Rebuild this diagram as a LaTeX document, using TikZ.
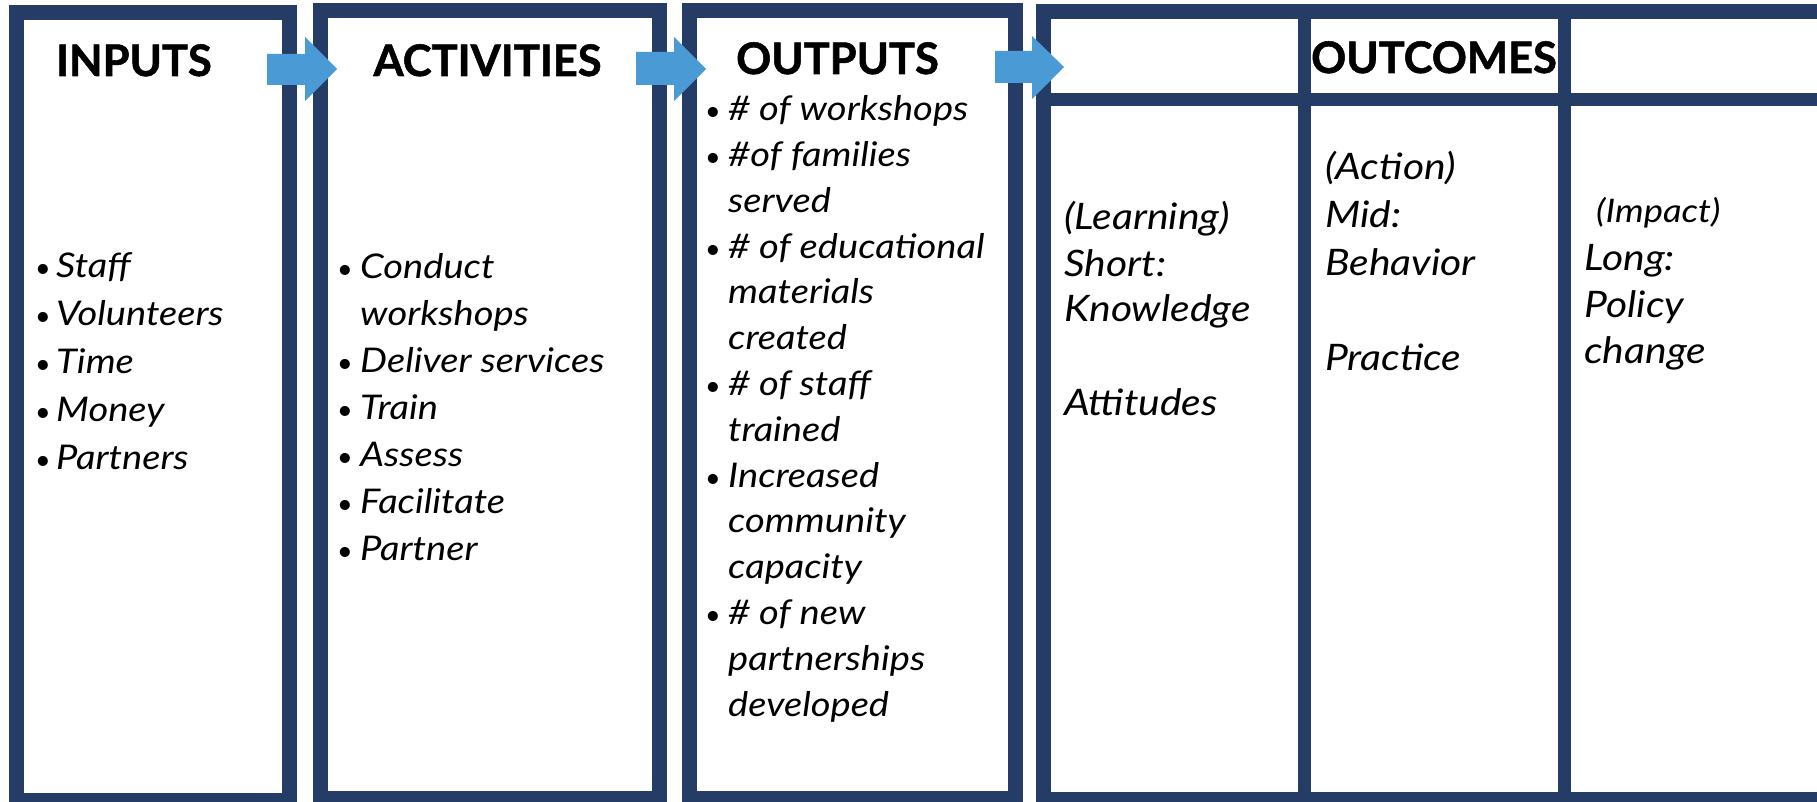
\documentclass[tikz,border=0pt]{standalone}
\usepackage{fontspec}
\setmainfont{Lato}
\newfontfamily\bodyfont{Lato}[FakeStretch=1.12]
\newfontfamily\headfont{Lato}[BoldFeatures={FakeBold=1.2}]
\definecolor{navy}{RGB}{37,61,102}
\definecolor{arrowblue}{RGB}{74,155,213}
\newcommand{\bline}[5]{\node[dot] (#1d) at (#2,#4) {•};\node[body] (#1) at (#3,#4) {#5};}
\newcommand{\pline}[4]{\node[body] (#1) at (#2,#3) {#4};}
\newcommand{\qline}[4]{\node[big] (#1) at (#2,#3) {#4};}
\begin{document}
\begin{tikzpicture}[x=1pt,y=-1pt,
  frame/.style={draw=navy, line width=15pt, fill=white, inner sep=0pt, outer sep=0pt, anchor=north west},
  divider/.style={draw=navy, line width=13.5pt},
  head/.style={font=\headfont\fontsize{43.5}{48}\selectfont\bfseries, anchor=base, inner sep=0pt},
  body/.style={font=\bodyfont\fontsize{34}{40}\selectfont\itshape, anchor=base west, inner sep=0pt, yshift=-2.5pt},
  big/.style={font=\bodyfont\fontsize{36.5}{44}\selectfont\itshape, anchor=base west, inner sep=0pt, yshift=-2.5pt},
  small/.style={font=\bodyfont\fontsize{32.5}{36}\selectfont\itshape, anchor=base west, inner sep=0pt, yshift=-2pt},
  dot/.style={font=\fontsize{27}{32}\selectfont\upshape, anchor=base, inner sep=0pt, yshift=-2.5pt},
  blockarrow/.style={fill=arrowblue, draw=none}]
\useasboundingbox (0,0) rectangle (1817,802);
\fill[white] (0,0) rectangle (1817,802);
% boxes
\node[frame, minimum width=272.5pt, minimum height=787.5pt] (inputs) at (16.5,13) {};
\node[frame, minimum width=339pt, minimum height=788pt] (activities) at (320.5,10.5) {};
\node[frame, minimum width=326pt, minimum height=788pt] (outputs) at (689.5,10.5) {};
\node[frame, minimum width=786.5pt, minimum height=788pt] (outcomes) at (1043.5,11.5) {};
\draw[divider] (1304.5,11.5) -- (1304.5,799.5);
\draw[divider] (1564.5,11.5) -- (1564.5,799.5);
\draw[divider, line width=13pt] (1043.5,99.5) -- (1830,99.5);
% arrows
\fill[blockarrow] (267,54) -- (305,54) -- (305,37) -- (337,69) -- (305,101) -- (305,85) -- (267,85) -- cycle;
\fill[blockarrow] (636,52) -- (674,52) -- (674,37) -- (706,69) -- (674,101) -- (674,85) -- (636,85) -- cycle;
\fill[blockarrow] (995,51) -- (1032,51) -- (1032,36) -- (1064,67) -- (1032,99) -- (1032,83) -- (995,83) -- cycle;
% headings
\node[head] (hin) at (134,76) {INPUTS};
\node[head] (hact) at (487.5,76) {ACTIVITIES};
\node[head] (hout) at (837.5,74) {OUTPUTS};
\node[head] (hoc) at (1434,73) {OUTCOMES};
% inputs
\bline{i1}{43}{56}{275}{Staff}
\bline{i2}{43}{56}{323}{Volunteers}
\bline{i3}{43}{56}{371}{Time}
\bline{i4}{43}{56}{419}{Money}
\bline{i5}{43}{56}{467}{Partners}
% activities
\bline{a1}{345}{360}{276}{Conduct}
\pline{a2}{360}{323}{workshops}
\bline{a3}{345}{360}{370}{Deliver services}
\bline{a4}{345}{360}{417}{Train}
\bline{a5}{345}{360}{464}{Assess}
\bline{a6}{345}{360}{511}{Facilitate}
\bline{a7}{345}{360}{558}{Partner}
% outputs
\bline{o1}{713}{728}{118}{\# of workshops}
\bline{o2}{713}{728}{164}{\#of families}
\pline{o3}{728}{210}{served}
\bline{o4}{713}{728}{256}{\# of educational}
\pline{o5}{728}{301}{materials}
\pline{o6}{728}{347}{created}
\bline{o7}{713}{728}{393}{\# of staff}
\pline{o8}{728}{439}{trained}
\bline{o9}{713}{728}{485}{Increased}
\pline{o10}{728}{530}{community}
\pline{o11}{728}{576}{capacity}
\bline{o12}{713}{728}{622}{\# of new}
\pline{o13}{728}{668}{partnerships}
\pline{o14}{728}{714}{developed}
% outcomes
\qline{c1}{1064}{227}{(Learning)}
\qline{c2}{1064}{274}{Short:}
\qline{c3}{1064}{319}{Knowledge}
\qline{c4}{1064}{413}{Attitudes}
\qline{m1}{1325}{177}{(Action)}
\qline{m2}{1325}{225}{Mid:}
\qline{m3}{1325}{273}{Behavior}
\qline{m4}{1325}{368}{Practice}
\node[small] (l1) at (1596,221) {(Impact)};
\qline{l2}{1584}{268}{Long:}
\qline{l3}{1584}{315}{Policy}
\qline{l4}{1584}{361}{change}
\end{tikzpicture}
\end{document}
